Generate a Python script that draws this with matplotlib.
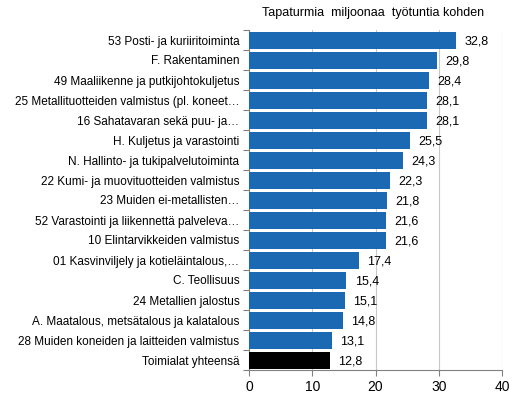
import matplotlib
matplotlib.use("Agg")
import matplotlib.pyplot as plt
from matplotlib.ticker import MultipleLocator, FixedLocator

plt.rcParams['font.family'] = ['Liberation Sans', 'DejaVu Sans']

# Data (top to bottom)
labels = [
    "53 Posti- ja kuriiritoiminta",
    "F. Rakentaminen",
    "49 Maaliikenne ja putkijohtokuljetus",
    "25 Metallituotteiden valmistus (pl. koneet\u2026",
    "16 Sahatavaran sekä puu- ja\u2026",
    "H. Kuljetus ja varastointi",
    "N. Hallinto- ja tukipalvelutoiminta",
    "22 Kumi- ja muovituotteiden valmistus",
    "23 Muiden ei-metallisten\u2026",
    "52 Varastointi ja liikennettä palveleva\u2026",
    "10 Elintarvikkeiden valmistus",
    "01 Kasvinviljely ja kotieläintalous,\u2026",
    "C. Teollisuus",
    "24 Metallien jalostus",
    "A. Maatalous, metsätalous ja kalatalous",
    "28 Muiden koneiden ja laitteiden valmistus",
    "Toimialat yhteensä",
]
values = [32.8, 29.8, 28.4, 28.1, 28.1, 25.5, 24.3, 22.3, 21.8, 21.6, 21.6,
          17.4, 15.4, 15.1, 14.8, 13.1, 12.8]
value_texts = ["32,8", "29,8", "28,4", "28,1", "28,1", "25,5", "24,3", "22,3",
               "21,8", "21,6", "21,6", "17,4", "15,4", "15,1", "14,8", "13,1", "12,8"]
title = "Tapaturmia  miljoonaa  työtuntia kohden"

blue = "#1b69b3"
colors = [blue] * (len(values) - 1) + ["#000000"]

fig = plt.figure(figsize=(5.29, 3.97), dpi=100)
ax = fig.add_axes([249 / 529, 1 - 370 / 397, 253 / 529, 340 / 397])

n = len(values)
ypos = list(range(n))
ax.barh(ypos, values, height=0.85, color=colors, zorder=3)
ax.set_ylim(n - 0.5, -0.5)
ax.set_xlim(0, 40)

# value labels
for y, v, t in zip(ypos, values, value_texts):
    ax.text(v + 1.3, y + 0.1, t, va="center", ha="left", fontsize=9, color="#000000")

ax.set_yticks(ypos)
ax.set_yticklabels(labels, fontsize=8.5)
ax.yaxis.set_minor_locator(FixedLocator([i - 0.5 for i in range(n + 1)]))
ax.tick_params(axis="y", which="major", length=0, pad=7)
ax.tick_params(axis="y", which="minor", length=4, color="#808080", width=0.8)

ax.xaxis.set_major_locator(MultipleLocator(10))
ax.tick_params(axis="x", length=4, color="#808080", width=0.8, labelsize=10)
ax.grid(axis="x", color="#c8c8c8", linewidth=0.8, linestyle="-", zorder=0)

for s in ["top", "right"]:
    ax.spines[s].set_visible(False)
for s in ["left", "bottom"]:
    ax.spines[s].set_color("#808080")
    ax.spines[s].set_linewidth(0.8)

fig.text(373 / 529, 1 - 13 / 397, title, ha="center", va="center", fontsize=9)

fig.savefig("out.png", dpi=100)
